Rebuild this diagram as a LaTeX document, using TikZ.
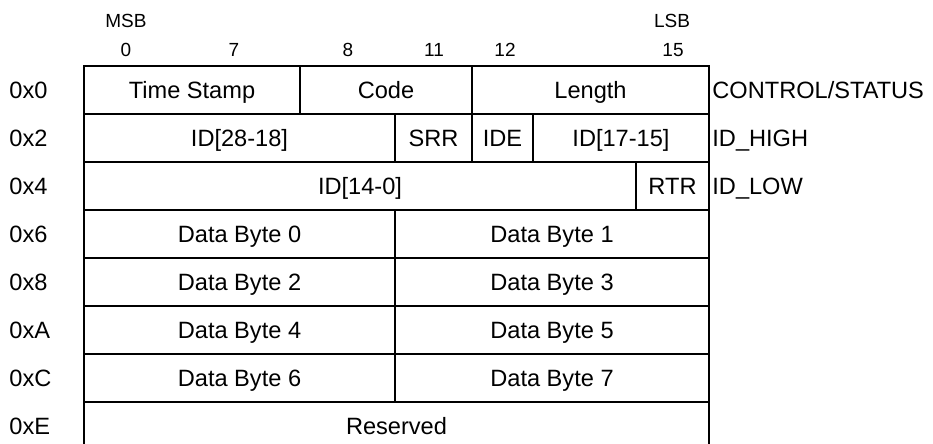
\documentclass[tikz,border=0pt]{standalone}
\usepackage{fontspec}
\setmainfont{Liberation Sans}
\usepackage{tikz}
\usetikzlibrary{positioning}

\begin{document}
\begin{tikzpicture}[
    x=0.5pt, y=-0.5pt,
    cell/.style={rectangle, draw=black, line width=1.2pt, minimum width=#1*0.5pt, minimum height=24pt, inner sep=0pt, outer sep=0pt, text height=8.4pt, text depth=0pt, font=\fontsize{11.8}{13}\selectfont},
    addr/.style={anchor=west, inner sep=0pt, text height=8.4pt, text depth=0pt, font=\fontsize{11.8}{13}\selectfont},
    regname/.style={anchor=west, inner sep=1.5pt, text height=8.4pt, text depth=0pt, font=\fontsize{11.8}{13}\selectfont},
    bitno/.style={inner sep=0pt, text height=6.8pt, text depth=0pt, font=\fontsize{9.5}{11}\selectfont}
  ]
    \path[use as bounding box, clip] (0,0) rectangle (933,444);

    % header
    \node[bitno] (msb) at (126,21) {MSB};
    \node[bitno] (lsb) at (672,21) {LSB};
    \node[bitno] (b0) at (126,50) {0};
    \node[bitno] (b7) at (234,50) {7};
    \node[bitno] (b8) at (348,50) {8};
    \node[bitno] (b11) at (434,50) {11};
    \node[bitno] (b12) at (505,50) {12};
    \node[bitno] (b15) at (673,50) {15};

    % offsets
    \node[addr] (a0) at (9,90) {0x0};
    \node[addr] (a2) at (9,138) {0x2};
    \node[addr] (a4) at (9,186) {0x4};
    \node[addr] (a6) at (9,234) {0x6};
    \node[addr] (a8) at (9,282) {0x8};
    \node[addr] (aA) at (9,330) {0xA};
    \node[addr] (aC) at (9,378) {0xC};
    \node[addr] (aE) at (9,426) {0xE};

    % fields
    \node[cell=216] (tstamp) at (192,90) {Time Stamp};
    \node[cell=172] (code) at (386,90) {Code};
    \node[cell=237] (len) at (590.5,90) {Length};

    \node[cell=311] (idhi) at (239.5,138) {ID[28-18]};
    \node[cell=77] (srr) at (433.5,138) {SRR};
    \node[cell=61] (ide) at (502.5,138) {IDE};
    \node[cell=176] (idmid) at (621,138) {ID[17-15]};

    \node[cell=552] (idlo) at (360,186) {ID[14-0]};
    \node[cell=73] (rtr) at (672.5,186) {RTR};

    \node[cell=311] (db0) at (239.5,234) {Data Byte 0};
    \node[cell=314] (db1) at (552,234) {Data Byte 1};
    \node[cell=311] (db2) at (239.5,282) {Data Byte 2};
    \node[cell=314] (db3) at (552,282) {Data Byte 3};
    \node[cell=311] (db4) at (239.5,330) {Data Byte 4};
    \node[cell=314] (db5) at (552,330) {Data Byte 5};
    \node[cell=311] (db6) at (239.5,378) {Data Byte 6};
    \node[cell=314] (db7) at (552,378) {Data Byte 7};

    \node[cell=625] (rsvd) at (396.5,426) {Reserved};

    % register names
    \node[regname] (rctl) at (709,90) {CONTROL/STATUS};
    \node[regname] (rhigh) at (709,138) {ID\_HIGH};
    \node[regname] (rlow) at (709,186) {ID\_LOW};
  \end{tikzpicture}
\end{document}
